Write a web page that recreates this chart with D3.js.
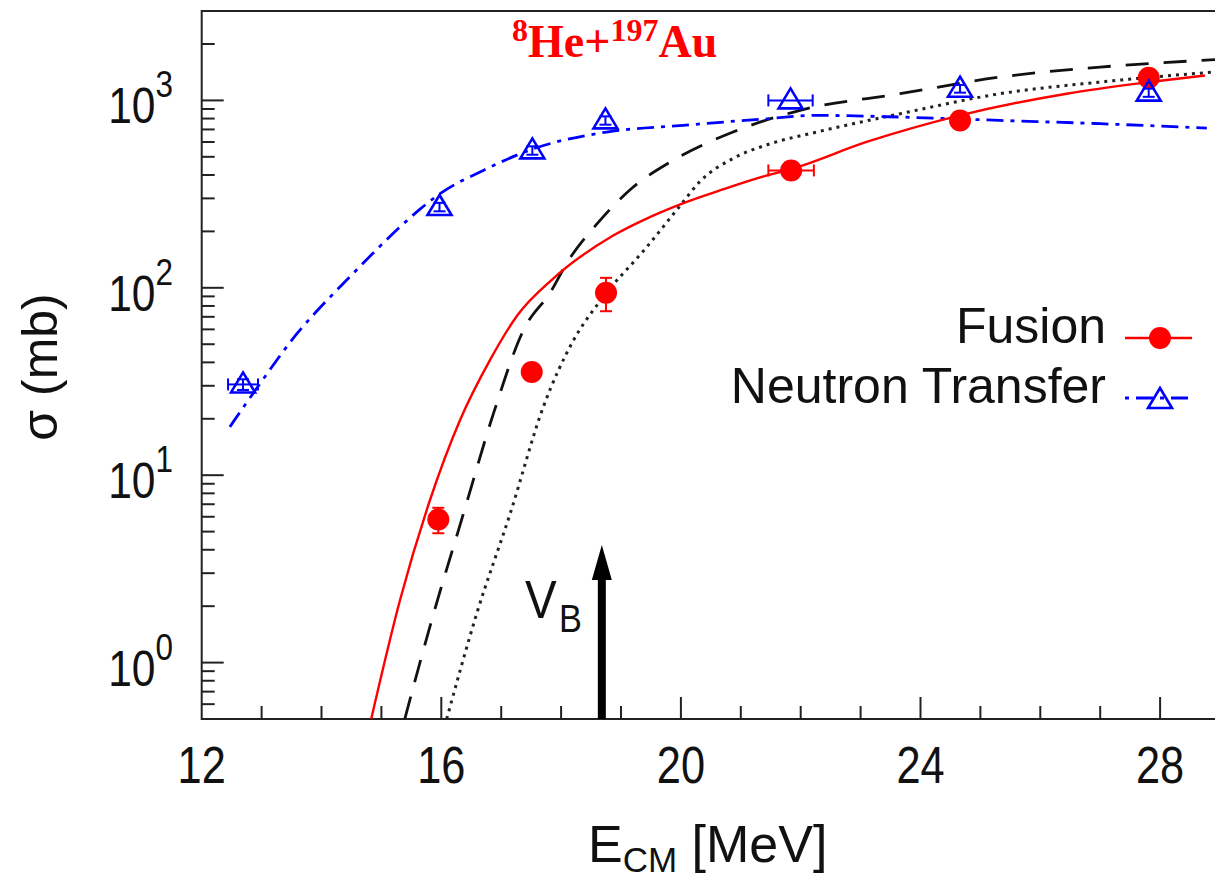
<!DOCTYPE html>
<html>
<head>
<meta charset="utf-8">
<script src="https://cdn.jsdelivr.net/npm/d3@7"></script>
<style>
body { margin: 0; background: #fff; }
svg { display: block; }
text { font-family: "Liberation Sans", Arial, Helvetica, sans-serif; }
</style>
</head>
<body>
<svg width="1215" height="879"></svg>
<script>
// measured fusion cross sections
var fusionE        = [15.95, 17.51, 18.75, 21.84, 24.66, 27.81];
var fusionSigma    = [5.8, 35.5, 94, 423, 782, 1322];
var fusionSigmaErr = [0.9, 0, 19, 0, 0, 0];
var fusionEErr     = [0, 0, 0, 0.38, 0, 0];

// measured neutron transfer cross sections
var transferE        = [12.69, 15.97, 17.52, 18.74, 21.83, 24.66, 27.81];
var transferSigma    = [30.5, 270, 541, 782, 1000, 1155, 1100];
var transferSigmaErr = [2, 14, 28, 40, 0, 55, 55];
var transferEErr     = [0.25, 0, 0, 0, 0.37, 0, 0];

// calculations
var calcFusionE     = [14.83, 15.31, 15.81, 16.31, 16.81, 17.28, 17.84, 18.87, 19.5, 20.0, 20.7, 21.44, 21.84, 23.1, 24.66, 26.44, 27.83, 28.75];
var calcFusionSigma = [0.5, 2.15, 7.35, 19.6, 41, 72, 110, 190, 240, 280, 335, 398, 430, 600, 832, 1086, 1253, 1359];

var dashedE     = [15.39, 15.87, 16.37, 16.87, 17.37, 17.84, 18.09, 18.65, 19.2, 19.87, 20.87, 21.99, 23.66, 25.33, 27.0, 28.67, 29.2];
var dashedSigma = [0.5, 1.82, 6.24, 21.3, 59.3, 96.8, 134.6, 229, 344, 479, 678, 885, 1086, 1332, 1506, 1634, 1670];

var dottedE     = [16.09, 16.59, 17.15, 17.7, 18.2, 18.65, 19.43, 19.99, 20.32, 20.87, 21.44, 22.27, 23.66, 25.33, 27.0, 28.89, 29.2];
var dottedSigma = [0.5, 1.82, 6.24, 23, 52, 85, 165, 275, 370, 490, 580, 678, 849, 1086, 1253, 1416, 1440];

var transferCalcE     = [12.47, 12.97, 13.59, 14.14, 14.42, 15.31, 15.64, 15.98, 16.7, 17.54, 18.76, 20.04, 21.43, 22.27, 23.66, 25.33, 27.0, 28.78];
var transferCalcSigma = [18.1, 30.7, 56.9, 89, 110, 211, 262, 318, 423, 552, 678, 736, 798, 832, 815, 782, 751, 711];

var barrierE = 18.68;

var xMajor = [12, 16, 20, 24, 28];
var yMajorLabels = [["10", "0"], ["10", "1"], ["10", "2"], ["10", "3"]];

var svg = d3.select("svg");

var x = d3.scaleLinear().domain([12, 30]).range([201.7, 1279.9]);
var y = d3.scaleLog().domain([0.5, 3000]).range([719, 11]);

var axisColor = "#222";

svg.append("defs").append("clipPath").attr("id", "plotclip")
    .append("rect")
    .attr("x", x(12)).attr("y", y(3000))
    .attr("width", x(30) - x(12)).attr("height", y(0.5) - y(3000));

function zip(a, b) { return a.map(function(v, i) { return [v, b[i]]; }); }

var line = d3.line()
    .x(function(d) { return x(d[0]); })
    .y(function(d) { return y(d[1]); })
    .curve(d3.curveMonotoneX);

//ticks on the x axis
var xTicks = d3.range(13, 30);
svg.append("g").selectAll("line")
    .data(xTicks)
    .enter().append("line")
    .attr("x1", function(d) { return x(d); })
    .attr("x2", function(d) { return x(d); })
    .attr("y1", y(0.5))
    .attr("y2", function(d) { return y(0.5) - (xMajor.indexOf(d) >= 0 ? 22 : 13); })
    .attr("stroke", axisColor).attr("stroke-width", 2);

//ticks on the y axis
var yTicks = [];
[-1, 0, 1, 2, 3].forEach(function(p) {
    for (var k = 1; k <= 9; k++) {
        var v = k * Math.pow(10, p);
        if (v >= 0.5 && v < 3000) yTicks.push({v: v, major: k == 1});
    }
});
svg.append("g").selectAll("line")
    .data(yTicks)
    .enter().append("line")
    .attr("x1", x(12))
    .attr("x2", function(d) { return x(12) + (d.major ? 22 : 13); })
    .attr("y1", function(d) { return y(d.v); })
    .attr("y2", function(d) { return y(d.v); })
    .attr("stroke", axisColor).attr("stroke-width", 2);

//frame
svg.append("path")
    .attr("d", "M1215," + y(3000) + "H" + x(12) + "V" + y(0.5) + "H1215")
    .attr("fill", "none").attr("stroke", axisColor).attr("stroke-width", 2);

//tick labels
svg.append("g").selectAll("g")
    .data(xMajor)
    .enter().append("g")
    .attr("transform", function(d) { return "translate(" + x(d) + ",783) scale(0.85,1)"; })
    .append("text")
    .attr("text-anchor", "middle")
    .attr("font-size", 51)
    .attr("fill", "#111")
    .text(function(d) { return d; });

var yl = svg.append("g").selectAll("g")
    .data(yMajorLabels)
    .enter().append("g")
    .attr("transform", function(d) { return "translate(173," + (y(Math.pow(10, +d[1])) + 23) + ") scale(0.85,1)"; })
    .append("text")
    .attr("text-anchor", "end")
    .attr("fill", "#111");
yl.append("tspan").attr("font-size", 50).text(function(d) { return d[0]; });
yl.append("tspan").attr("font-size", 37).attr("dy", -26).text(function(d) { return d[1]; });

//axis titles
var xt = svg.append("text").attr("x", 588).attr("y", 862).attr("fill", "#111").attr("font-size", 52);
xt.append("tspan").text("E");
xt.append("tspan").attr("font-size", 35).attr("dy", 10).text("CM");
xt.append("tspan").attr("dy", -10).text(" [MeV]");

svg.append("text")
    .attr("transform", "translate(57,367) rotate(-90)")
    .attr("text-anchor", "middle")
    .attr("font-size", 50)
    .attr("fill", "#111")
    .text("σ (mb)");

//title
var tt = svg.append("text")
    .attr("x", 512).attr("y", 57)
    .attr("fill", "#ff0000")
    .attr("font-weight", "bold")
    .style("font-family", "'Liberation Serif', 'Times New Roman', serif")
    .attr("font-size", 46);
tt.append("tspan").attr("font-size", 32).attr("dy", -16).text("8");
tt.append("tspan").attr("dy", 16).text("He+");
tt.append("tspan").attr("font-size", 32).attr("dy", -16).text("197");
tt.append("tspan").attr("dy", 16).text("Au");

//curves
var curves = svg.append("g").attr("clip-path", "url(#plotclip)");

curves.append("path")
    .datum(zip(dottedE, dottedSigma))
    .attr("d", line)
    .attr("fill", "none").attr("stroke", "#222")
    .attr("stroke-width", 3).attr("stroke-dasharray", "3,5");

curves.append("path")
    .datum(zip(dashedE, dashedSigma))
    .attr("d", line)
    .attr("fill", "none").attr("stroke", "#111")
    .attr("stroke-width", 2.8).attr("stroke-dasharray", "23,15");

curves.append("path")
    .datum(zip(transferCalcE, transferCalcSigma))
    .attr("d", line)
    .attr("fill", "none").attr("stroke", "#0000ff")
    .attr("stroke-width", 2.8).attr("stroke-dasharray", "17,7,4,7");

curves.append("path")
    .datum(zip(calcFusionE, calcFusionSigma))
    .attr("d", line)
    .attr("fill", "none").attr("stroke", "#ff0000")
    .attr("stroke-width", 2.4);

//V_B arrow
var xb = x(barrierE);
svg.append("line")
    .attr("x1", xb).attr("x2", xb)
    .attr("y1", y(0.5)).attr("y2", 578)
    .attr("stroke", "#000").attr("stroke-width", 8);
svg.append("path")
    .attr("d", "M" + (xb - 10) + ",580L" + (xb + 10) + ",580L" + xb + ",545Z")
    .attr("fill", "#000");
svg.append("g").attr("transform", "translate(525,618) scale(0.88,1)")
    .append("text").attr("font-size", 54).attr("fill", "#111").text("V");
svg.append("g").attr("transform", "translate(559,632) scale(0.88,1)")
    .append("text").attr("font-size", 39).attr("fill", "#111").text("B");

//error bars
function errorBars(g, E, S, SE, EE, colour) {
    E.forEach(function(e, i) {
        var cx = x(e), cy = y(S[i]);
        if (SE[i] > 0) {
            var y1 = y(S[i] + SE[i]), y2 = y(S[i] - SE[i]);
            g.append("line").attr("x1", cx).attr("x2", cx).attr("y1", y1).attr("y2", y2)
                .attr("stroke", colour).attr("stroke-width", 2);
            [y1, y2].forEach(function(yy) {
                g.append("line").attr("x1", cx - 6).attr("x2", cx + 6).attr("y1", yy).attr("y2", yy)
                    .attr("stroke", colour).attr("stroke-width", 2);
            });
        }
        if (EE[i] > 0) {
            var x1 = x(e - EE[i]), x2 = x(e + EE[i]);
            g.append("line").attr("x1", x1).attr("x2", x2).attr("y1", cy).attr("y2", cy)
                .attr("stroke", colour).attr("stroke-width", 2);
            [x1, x2].forEach(function(xx) {
                g.append("line").attr("x1", xx).attr("x2", xx).attr("y1", cy - 6).attr("y2", cy + 6)
                    .attr("stroke", colour).attr("stroke-width", 2);
            });
        }
    });
}

var marks = svg.append("g");
errorBars(marks, fusionE, fusionSigma, fusionSigmaErr, fusionEErr, "#ff0000");
marks.selectAll("circle.fus")
    .data(zip(fusionE, fusionSigma))
    .enter().append("circle")
    .attr("class", "fus")
    .attr("cx", function(d) { return x(d[0]); })
    .attr("cy", function(d) { return y(d[1]); })
    .attr("r", 11)
    .attr("fill", "#ff0000");

var tri = "M0,-12L12,8L-12,8Z";
errorBars(marks, transferE, transferSigma, transferSigmaErr, transferEErr, "#0000ff");
marks.selectAll("path.tr")
    .data(zip(transferE, transferSigma))
    .enter().append("path")
    .attr("class", "tr")
    .attr("d", tri)
    .attr("transform", function(d) { return "translate(" + x(d[0]) + "," + y(d[1]) + ")"; })
    .attr("fill", "none").attr("stroke", "#0000ff").attr("stroke-width", 2.6);

//legend
var legend = svg.append("g");
legend.append("text").attr("x", 1106).attr("y", 343).attr("text-anchor", "end")
    .attr("font-size", 50).attr("fill", "#111").text("Fusion");
legend.append("text").attr("x", 1106).attr("y", 403).attr("text-anchor", "end")
    .attr("font-size", 50).attr("fill", "#111").text("Neutron Transfer");
legend.append("line").attr("x1", 1125).attr("x2", 1192).attr("y1", 338).attr("y2", 338)
    .attr("stroke", "#ff0000").attr("stroke-width", 2.4);
legend.append("circle").attr("cx", 1160).attr("cy", 338).attr("r", 11).attr("fill", "#ff0000");
legend.append("line").attr("x1", 1125).attr("x2", 1192).attr("y1", 398).attr("y2", 398)
    .attr("stroke", "#0000ff").attr("stroke-width", 2.8).attr("stroke-dasharray", "4,7,17,7");
legend.append("path").attr("d", tri).attr("transform", "translate(1160,400)")
    .attr("fill", "none").attr("stroke", "#0000ff").attr("stroke-width", 2.6);
</script>
</body>
</html>
